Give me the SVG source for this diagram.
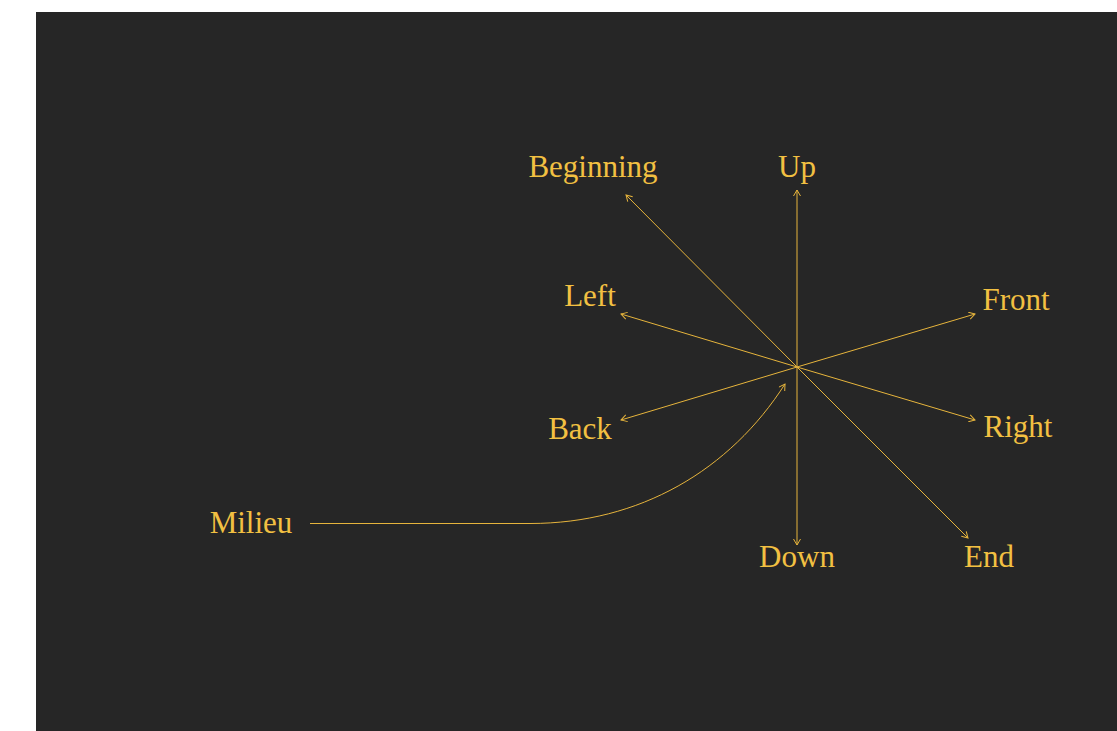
<svg xmlns="http://www.w3.org/2000/svg" width="1117" height="731" viewBox="0 0 1117 731">
<style>
.lbl{font-family:"Liberation Serif","DejaVu Serif",serif;font-size:31px;fill:#f2c042;text-anchor:middle}
.c{fill:none;stroke:#e6b43c;stroke-width:1;marker-end:url(#ah)}
</style>
<defs>
<marker id="ah" viewBox="-7 -4 8 8" markerWidth="8" markerHeight="8" markerUnits="userSpaceOnUse" orient="auto">
<polyline points="-6,-3.5 0,0 -6,3.5" fill="none" stroke="#e6b43c" stroke-width="1"/>
</marker>
</defs>
<rect x="0" y="0" width="1117" height="731" fill="#ffffff"/>
<rect x="36" y="12" width="1081" height="719" fill="#262626"/>
<g id="connectors">
<line class="c" x1="797" y1="367" x2="797" y2="190"/>
<line class="c" x1="797" y1="367" x2="797" y2="545"/>
<line class="c" x1="797" y1="367" x2="626" y2="195"/>
<line class="c" x1="797" y1="367" x2="968" y2="538"/>
<line class="c" x1="797" y1="367" x2="621" y2="314"/>
<line class="c" x1="797" y1="367" x2="975" y2="420"/>
<line class="c" x1="797" y1="367" x2="975" y2="314"/>
<line class="c" x1="797" y1="367" x2="621" y2="420"/>
<path class="c" d="M310,523.5 L530,523.5 C640,523.5 730,470 785,384"/>
</g>
<g id="node-up"><text class="lbl" x="797" y="177">Up</text></g>
<g id="node-beginning"><text class="lbl" x="593" y="177">Beginning</text></g>
<g id="node-left"><text class="lbl" x="590" y="306">Left</text></g>
<g id="node-front"><text class="lbl" x="1016" y="310">Front</text></g>
<g id="node-back"><text class="lbl" x="580" y="439">Back</text></g>
<g id="node-right"><text class="lbl" x="1018" y="437">Right</text></g>
<g id="node-milieu"><text class="lbl" x="251" y="533">Milieu</text></g>
<g id="node-down"><text class="lbl" x="797" y="567">Down</text></g>
<g id="node-end"><text class="lbl" x="989" y="567">End</text></g>
</svg>
